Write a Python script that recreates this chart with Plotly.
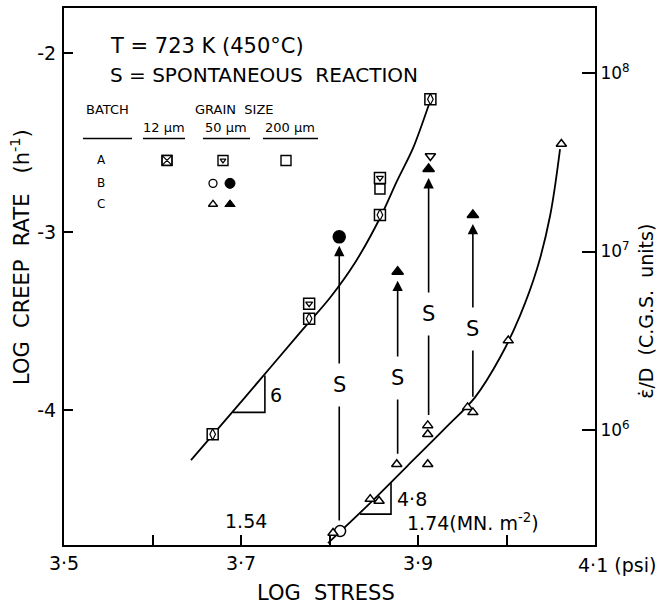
import plotly.graph_objects as go

# ---------------- data (log stress, log creep rate) ----------------
x_tick_vals = [3.5, 3.7, 3.9]
x_tick_text = ["3·5", "3·7", "3·9"]
x_minor_vals = [3.6, 3.8, 4.0]
y_tick_vals = [-2, -3, -4]
y_tick_text = ["-2", "-3", "-4"]
right_tick_vals = [6, 7, 8]
right_tick_text = ["10<sup>6</sup>", "10<sup>7</sup>", "10<sup>8</sup>"]
right_offset = 10.11          # log(eps_dot/D) = log creep rate + offset
x_range = [3.5, 4.1]
y_range = [-4.754, -1.746]

# Batch A
a12_x = [3.668, 3.777, 3.857, 3.914]
a12_y = [-4.134, -3.486, -2.905, -2.257]
a50_x = [3.777, 3.857]
a50_y = [-3.402, -2.698]
a200_x = [3.857]
a200_y = [-2.760]
# Batch B (50 um)
b_open_x = [3.812]
b_open_y = [-4.676]
b_fill_x = [3.811]
b_fill_y = [-3.028]
# Batch C (50 um)
c_open_x = [3.804, 3.846, 3.856, 3.876, 3.911, 3.911, 3.911, 3.956, 3.962, 4.002, 4.062]
c_open_y = [-4.687, -4.497, -4.508, -4.302, -4.302, -4.084, -4.134, -3.983, -4.011, -3.609, -2.508]
c_fill_x = [3.877, 3.912, 3.962]
c_fill_y = [-3.223, -2.648, -2.905]
down_x = [3.914]
down_y = [-2.575]

# fitted curves
fitA_x = [3.6435, 3.7045, 3.7667, 3.8006, 3.8288, 3.8582, 3.8763, 3.8944, 3.9136]
fitA_y = [-4.279, -3.927, -3.564, -3.369, -3.173, -2.911, -2.715, -2.531, -2.268]
fitC_x = [3.7983, 3.8424, 3.8876, 3.9305, 3.9644, 3.9927, 4.0153, 4.0345, 4.0492, 4.0605]
fitC_y = [-4.743, -4.536, -4.313, -4.101, -3.927, -3.704, -3.469, -3.207, -2.911, -2.536]

# spontaneous reaction arrows
arrow_x = [3.811, 3.877, 3.912, 3.962]
arrow_y0 = [-4.676, -4.302, -4.084, -3.983]
arrow_y1 = [-3.028, -3.223, -2.648, -2.905]
s_label_y = [-3.860, -3.821, -3.458, -3.542]

# slope triangles
tri6_x = [3.691, 3.727, 3.727]
tri6_y = [-4.011, -4.011, -3.804]
tri48_x = [3.8345, 3.8695, 3.8695]
tri48_y = [-4.581, -4.581, -4.402]

# ---------------- layout helpers ----------------
W, H = 661, 606
ML, MR, MT, MB = 64, 66, 6, 61
PW, PH = W - ML - MR, H - MT - MB


def px(x):
    return (x - ML) / PW


def py(y):
    return (H - MB - y) / PH


FONT = "DejaVu Sans"
BLACK = "black"

fig = go.Figure()


def add_markers(xs, ys, symbol, size, fill, lw=1.5, xaxis="x", yaxis="y"):
    fig.add_trace(go.Scatter(
        x=xs, y=ys, mode="markers", xaxis=xaxis, yaxis=yaxis,
        marker=dict(symbol=symbol, size=size, color=fill,
                    line=dict(color=BLACK, width=lw)),
        showlegend=False, hoverinfo="skip"))


# curves
fig.add_trace(go.Scatter(x=fitA_x, y=fitA_y, mode="lines",
                         line=dict(color=BLACK, width=1.8, shape="spline", smoothing=0.8),
                         showlegend=False, hoverinfo="skip"))
fig.add_trace(go.Scatter(x=fitC_x, y=fitC_y, mode="lines",
                         line=dict(color=BLACK, width=1.8, shape="spline", smoothing=1.0),
                         showlegend=False, hoverinfo="skip"))
# slope triangles
for tx, ty in ((tri6_x, tri6_y), (tri48_x, tri48_y)):
    fig.add_trace(go.Scatter(x=tx, y=ty, mode="lines",
                             line=dict(color=BLACK, width=1.6),
                             showlegend=False, hoverinfo="skip"))

# data markers
add_markers(a12_x, a12_y, "square", 11, "white")
add_markers(a12_x, a12_y, "diamond-tall-open", 8, BLACK, 1.2)
add_markers(a50_x, a50_y, "square", 11, "white")
add_markers(a50_x, a50_y, "triangle-down-open", 6, BLACK, 1.3)
add_markers(a200_x, a200_y, "square", 10, "white")
add_markers(b_open_x, b_open_y, "circle", 11, "white")
add_markers(b_fill_x, b_fill_y, "circle", 12, BLACK)
add_markers(c_open_x, c_open_y, "triangle-up", 9, "white")
add_markers(c_fill_x, c_fill_y, "triangle-up", 10, BLACK)
add_markers(down_x, down_y, "triangle-down", 9, "white")

# legend key markers (overlay axes in figure-pixel units)
add_markers([167], [159], "square", 10, "white", 1.4, "x2", "y3")
add_markers([167], [159], "square-x-open", 10, BLACK, 1.2, "x2", "y3")
add_markers([223], [159], "square", 10, "white", 1.4, "x2", "y3")
add_markers([223], [159], "triangle-down-open", 5, BLACK, 1.2, "x2", "y3")
add_markers([286], [159], "square", 10, "white", 1.4, "x2", "y3")
add_markers([213], [182], "circle", 8, "white", 1.3, "x2", "y3")
add_markers([230], [182], "circle", 10, BLACK, 1.0, "x2", "y3")
add_markers([213], [203], "triangle-up", 8, "white", 1.3, "x2", "y3")
add_markers([230], [203], "triangle-up", 9, BLACK, 1.0, "x2", "y3")

annotations = []
shapes = []

# arrows and S labels
for ax_, a0, a1 in zip(arrow_x, arrow_y0, arrow_y1):
    annotations.append(dict(x=ax_, y=a1, ax=ax_, ay=a0, xref="x", yref="y",
                            axref="x", ayref="y", text="", showarrow=True,
                            arrowhead=2, arrowsize=1.3, arrowwidth=1.6,
                            arrowcolor=BLACK, standoff=9, startstandoff=9))
for ax_, sy in zip(arrow_x, s_label_y):
    annotations.append(dict(x=ax_, y=sy, xref="x", yref="y", text="S",
                            showarrow=False, bgcolor="white", borderpad=9,
                            font=dict(family=FONT, size=21, color=BLACK)))

# slope labels
annotations.append(dict(x=tri6_x[1], y=-3.916, xref="x", yref="y", text="6",
                        xanchor="left", xshift=3, showarrow=False,
                        font=dict(family=FONT, size=19, color=BLACK)))
annotations.append(dict(x=tri48_x[1], y=-4.497, xref="x", yref="y", text="4·8",
                        xanchor="left", xshift=4, showarrow=False,
                        font=dict(family=FONT, size=19, color=BLACK)))


def text(x, y, s, size, xanchor="left", angle=0):
    annotations.append(dict(x=px(x), y=py(y), xref="paper", yref="paper", text=s,
                            xanchor=xanchor, yanchor="middle", showarrow=False,
                            textangle=angle,
                            font=dict(family=FONT, size=size, color=BLACK)))


text(108, 44, "T = 723 K (450°C)", 21)
text(108, 73, "S = SPONTANEOUS  REACTION", 20)
text(107, 108, "BATCH", 13, "center")
text(234, 108, "GRAIN  SIZE", 13, "center")
text(164, 126, "12 μm", 13, "center")
text(226, 126, "50 μm", 13, "center")
text(290, 126, "200 μm", 13, "center")
text(101, 159, "A", 12, "center")
text(101, 182, "B", 12, "center")
text(101, 203, "C", 12, "center")
for x0, x1 in ((83, 132), (143, 185), (203, 250), (263, 318)):
    shapes.append(dict(type="line", xref="paper", yref="paper",
                       x0=px(x0), x1=px(x1), y0=py(137), y1=py(137),
                       line=dict(color=BLACK, width=1.3)))

text(246, 521, "1.54", 19, "center")
text(405, 522, "1.74(MN. m<sup>-2</sup>)", 19)
text(576, 565, "4·1 (psi)", 19)
text(326, 593, "LOG\u00a0\u00a0STRESS", 21, "center")
text(20, 256, "LOG\u00a0\u00a0CREEP\u00a0\u00a0RATE\u00a0\u00a0\u00a0(h<sup>-1</sup>)", 21, "center", -90)
text(646, 310, "ε\u0307/D\u00a0\u00a0(C.G.S.\u00a0\u00a0units)", 19, "center", -90)

axis_common = dict(showgrid=False, zeroline=False, showline=True, linecolor=BLACK,
                   linewidth=2, ticks="inside", tickcolor=BLACK, tickwidth=1.8)

fig.update_layout(
    width=W, height=H,
    margin=dict(l=ML, r=MR, t=MT, b=MB, pad=0),
    paper_bgcolor="white", plot_bgcolor="white",
    showlegend=False,
    font=dict(family=FONT, color=BLACK),
    xaxis=dict(range=x_range, tickvals=x_tick_vals, ticktext=x_tick_text,
               ticklen=10, mirror=True,
               minor=dict(tickvals=x_minor_vals, ticks="inside", ticklen=10,
                          tickcolor=BLACK, tickwidth=1.8, showgrid=False),
               tickfont=dict(family=FONT, size=19, color=BLACK), **axis_common),
    yaxis=dict(range=y_range, tickvals=y_tick_vals, ticktext=y_tick_text,
               ticklen=9, ticklabelstandoff=2,
               tickfont=dict(family=FONT, size=19, color=BLACK), **axis_common),
    yaxis2=dict(range=[y_range[0] + right_offset, y_range[1] + right_offset],
                tickvals=right_tick_vals, ticktext=right_tick_text,
                overlaying="y", side="right", anchor="x", ticklen=13,
                tickfont=dict(family=FONT, size=17, color=BLACK), **axis_common),
    xaxis2=dict(range=[ML, W - MR], overlaying="x", anchor="y3", visible=False),
    yaxis3=dict(range=[H - MB, MT], overlaying="y", anchor="x2", visible=False),
    annotations=annotations,
    shapes=shapes,
)

# invisible trace so the right axis is drawn
fig.add_trace(go.Scatter(x=[3.5], y=[7], yaxis="y2", mode="markers",
                         marker=dict(opacity=0), showlegend=False, hoverinfo="skip"))

fig.write_html("out.html")
